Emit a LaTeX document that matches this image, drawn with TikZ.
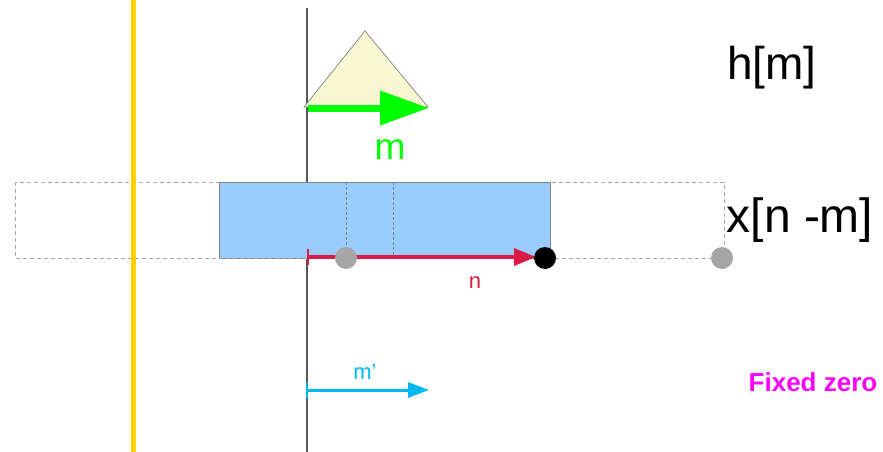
\documentclass[tikz,border=0pt]{standalone}
\usepackage{fontspec}
\setmainfont{Liberation Sans}
\usetikzlibrary{arrows.meta}
\definecolor{goldline}{HTML}{FFD200}
\definecolor{trifill}{HTML}{F8F8D2}
\definecolor{boxblue}{HTML}{99CCFF}
\definecolor{dotgray}{HTML}{A6A6A6}
\definecolor{redarrow}{HTML}{DC1A46}
\definecolor{cyanarrow}{HTML}{00B8F0}
\definecolor{greenarrow}{HTML}{00FF00}
\definecolor{magentatext}{HTML}{FF00FF}
\tikzset{
  dashbox/.style={draw=gray!70, line width=0.8pt, dash pattern=on 4pt off 3pt},
  innerdash/.style={draw=gray, line width=0.8pt, dash pattern=on 3pt off 2pt},
  dotnode/.style={circle, inner sep=0pt, minimum size=22pt},
  bigtext/.style={font=\fontsize{46}{50}\selectfont, inner sep=0pt},
  smalltext/.style={font=\fontsize{22}{26}\selectfont, inner sep=0pt}
}
\begin{document}
\begin{tikzpicture}[x=1pt,y=-1pt]
\useasboundingbox (0,0) rectangle (883,452);
% vertical axis
\coordinate (axtop) at (307,8);
\coordinate (axbot) at (307,452);
\draw[black!65, line width=1.3pt] (axtop) -- (axbot);
% dashed outer rectangle
\draw[dashbox] (15,182) rectangle (724,258);
% blue box
\draw[fill=boxblue, draw=gray, line width=0.8pt] (219,182) rectangle (550,258);
\draw[dashbox] (219,258) -- (550,258);
\draw[innerdash] (346,182) -- (346,258);
\draw[innerdash] (393,182) -- (393,258);
% yellow line
\draw[goldline, line width=5pt] (133,0) -- (133,452);
% triangle
\coordinate (tA) at (365,31);
\coordinate (tL) at (304,107);
\coordinate (tR) at (428,107);
\draw[fill=trifill, draw=gray, line width=0.7pt] (tL) -- (tA) -- (tR) -- cycle;
% green arrow
\coordinate (gs) at (308,108);
\coordinate (ge) at (429,108);
\draw[greenarrow, line width=7pt, -{Triangle[length=49pt,width=33pt]}] (gs) -- (ge);
\node[text=greenarrow, font=\fontsize{37}{40}\selectfont, inner sep=0pt] (mlab) at (390,150) {m};
% red arrow
\coordinate (rs) at (307,257);
\coordinate (re) at (536,257);
\draw[redarrow, line width=3.5pt, {Bar[width=16pt,line width=2pt]}-{Triangle[length=22pt,width=17pt]}] (rs) -- (re);
\node[smalltext, text=redarrow] (nlab) at (475,283) {n};
% dots
\node[dotnode, fill=dotgray] (g1) at (346,258) {};
\node[dotnode, fill=dotgray] (g2) at (722,258) {};
\node[dotnode, fill=black] (bk) at (545,258) {};
% cyan arrow
\coordinate (cs) at (306,390);
\coordinate (ce) at (429,390);
\draw[cyanarrow, line width=3pt, {Bar[width=16pt,line width=2pt]}-{Triangle[length=21pt,width=15pt]}] (cs) -- (ce);
\node[smalltext, text=cyanarrow] (mplab) at (365,372) {m’};
% labels
\node[bigtext] (hlab) at (772,68) {h[m]};
\node[bigtext, font=\fontsize{48}{52}\selectfont] (xlab) at (800,220) {x[n -m]};
\node[font=\fontsize{26}{30}\selectfont\bfseries, text=magentatext, inner sep=0pt] (fz) at (813,382) {Fixed zero};
\end{tikzpicture}
\end{document}
